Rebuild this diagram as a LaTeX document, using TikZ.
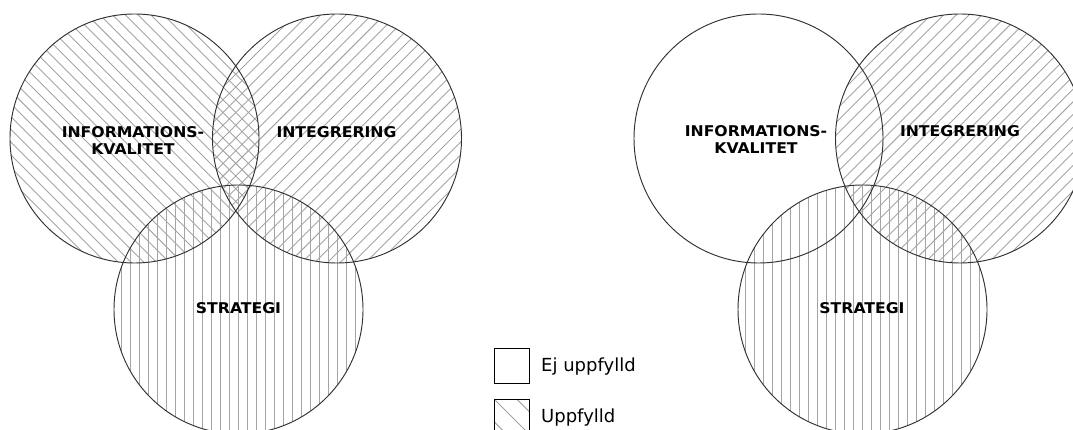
\documentclass[tikz,border=0pt]{standalone}
\usepackage{fontspec}
\setmainfont{DejaVu Sans}
\newfontfamily\lblfont[FakeStretch=1.06]{DejaVu Sans Bold}
\definecolor{hatchgray}{RGB}{165,165,165}
\definecolor{rimgray}{RGB}{50,50,50}

\tikzset{
  rim/.style={draw=rimgray, line width=0.95pt},
  hatchline/.style={draw=hatchgray, line width=0.9pt},
  lbl/.style={font=\lblfont\fontsize{14.8}{17}\selectfont, inner sep=0pt,
              anchor=base, align=center},
  legtxt/.style={font=\fontsize{18}{22}\selectfont, inner sep=0pt, anchor=base west},
  legbox/.style={draw=black, line width=1.2pt}
}

% hatch a disc of radius 124.5 centred at (#1,#2) with lines turned by #3 degrees
\newcommand\hatchdisc[3]{%
  \begin{scope}
    \clip (#1,#2) circle (124.5);
    \foreach \k in {-15,...,15}
      \draw[hatchline, rotate around={#3:(#1,#2)}]
        ({#1+\k*9},{#2-140}) -- ({#1+\k*9},{#2+140});
  \end{scope}}

\begin{document}
\begin{tikzpicture}[x=1pt, y=-1pt]
  \useasboundingbox (0,0) rectangle (1073,430);
  \clip (0,0) rectangle (1073,430);

  % ---- left diagram: all three criteria fulfilled ----
  \coordinate (lA) at (134.5,138.5);
  \coordinate (lB) at (337,138.5);
  \coordinate (lC) at (238.5,309.5);
  \hatchdisc{134.5}{138.5}{45}
  \hatchdisc{337}{138.5}{-45}
  \hatchdisc{238.5}{309.5}{0}
  \draw[rim] (lA) circle (124.5);
  \draw[rim] (lB) circle (124.5);
  \draw[rim] (lC) circle (124.5);
  \node[lbl] (lAtxt) at (133,155) {INFORMATIONS-\\KVALITET};
  \node[lbl] (lBtxt) at (336.5,138) {INTEGRERING};
  \node[lbl] (lCtxt) at (238.5,313) {STRATEGI};

  % ---- right diagram: information quality not fulfilled ----
  \coordinate (rA) at (758.5,138.5);
  \coordinate (rB) at (960,138.5);
  \coordinate (rC) at (862.5,309.5);
  \hatchdisc{960}{138.5}{-45}
  \hatchdisc{862.5}{309.5}{0}
  \draw[rim] (rA) circle (124.5);
  \draw[rim] (rB) circle (124.5);
  \draw[rim] (rC) circle (124.5);
  \node[lbl] (rAtxt) at (756,154) {INFORMATIONS-\\KVALITET};
  \node[lbl] (rBtxt) at (960,137) {INTEGRERING};
  \node[lbl] (rCtxt) at (862,313) {STRATEGI};

  % ---- legend ----
  \node[legbox, minimum width=35pt, minimum height=35pt, inner sep=0pt,
        anchor=north west] (keyno) at (494,348) {};
  \node[legtxt] (keynotxt) at (541,371) {Ej uppfylld};
  \begin{scope}
    \clip (494,399) rectangle (529,434);
    \foreach \k in {-3,...,3}
      \draw[hatchline, rotate around={45:(511.5,416.5)}]
        ({511.5+\k*16},380) -- ({511.5+\k*16},453);
  \end{scope}
  \node[legbox, minimum width=35pt, minimum height=35pt, inner sep=0pt,
        anchor=north west] (keyyes) at (494,399) {};
  \node[legtxt] (keyyestxt) at (541,422) {Uppfylld};
\end{tikzpicture}
\end{document}
